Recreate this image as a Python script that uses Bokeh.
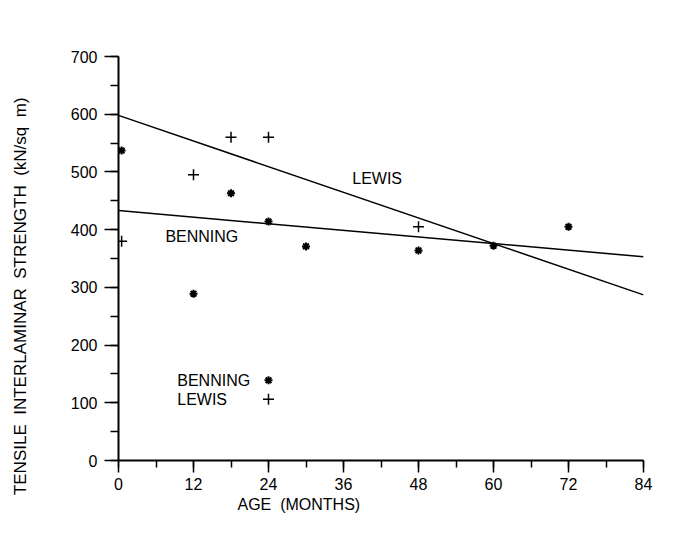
from bokeh.plotting import figure
from bokeh.models import Range1d, SingleIntervalTicker, Label, Title
from bokeh.embed import file_html
from bokeh.resources import INLINE

# ---- data ----
benning_age = [0.5, 12, 18, 24, 30, 48, 60, 72]
benning_str = [537, 289, 463, 414, 371, 364, 372, 405]
lewis_age = [0.5, 12, 18, 24, 48]
lewis_str = [380, 495, 560, 560, 405]
fit_age = [0, 84]
benning_fit = [433, 353]
lewis_fit = [598, 287]

FONT = "Liberation Sans"
NB = "\u00a0"

p = figure(width=675, height=540, output_backend="svg", toolbar_location=None,
           x_range=Range1d(0, 84), y_range=Range1d(0, 700),
           min_border_left=118, min_border_right=32, min_border_top=56,
           min_border_bottom=80)
p.outline_line_color = None
p.grid.grid_line_color = None
p.background_fill_color = "white"
p.border_fill_color = "white"

p.xaxis.ticker = SingleIntervalTicker(interval=12, num_minor_ticks=2)
p.yaxis.ticker = SingleIntervalTicker(interval=100, num_minor_ticks=2)
for ax in (p.xaxis, p.yaxis):
    ax.axis_line_color = "black"
    ax.axis_line_width = 2
    ax.major_tick_line_color = "black"
    ax.major_tick_line_width = 1.5
    ax.minor_tick_line_color = "black"
    ax.minor_tick_line_width = 1.5
    ax.major_tick_in = 0
    ax.minor_tick_in = 0
    ax.major_label_text_font = FONT
    ax.major_label_text_font_size = "16px"
    ax.major_label_text_color = "black"
p.xaxis.major_tick_out = 12
p.xaxis.minor_tick_out = 7
p.yaxis.major_tick_out = 14
p.yaxis.minor_tick_out = 8
p.xaxis.major_label_standoff = 5
p.yaxis.major_label_standoff = 7

# y axis title: the original sits below the frame centre, trailing
# non-breaking spaces shift the visible text down accordingly
ylab = (NB * 2).join(["TENSILE", "INTERLAMINAR", "STRENGTH", "(kN/sq", "m)"])
p.yaxis.axis_label = ylab + NB * 16
p.yaxis.axis_label_text_font = FONT
p.yaxis.axis_label_text_font_size = "17px"
p.yaxis.axis_label_text_font_style = "normal"
p.yaxis.axis_label_text_color = "black"
p.yaxis.axis_label_standoff = 38

# fitted lines
p.line(fit_age, lewis_fit, line_color="black", line_width=1.5)
p.line(fit_age, benning_fit, line_color="black", line_width=1.5)

# data points
p.scatter(benning_age, benning_str, marker="asterisk", size=8,
          line_color="black", line_width=2)
p.scatter(lewis_age, lewis_str, marker="cross", size=11,
          line_color="black", line_width=1.5)


def lab(x, y, t):
    p.add_layout(Label(x=x, y=y, text=t, text_font=FONT, text_font_size="16px",
                       text_color="black", text_align="left",
                       text_baseline="middle"))


lab(37.4, 489, "LEWIS")
lab(7.5, 388, "BENNING")

# legend
lab(9.4, 139, "BENNING")
lab(9.4, 106, "LEWIS")
p.scatter([24], [139], marker="asterisk", size=8, line_color="black", line_width=2)
p.scatter([24], [106], marker="cross", size=11, line_color="black", line_width=1.5)

# x axis title (left of centre, as in the original)
p.add_layout(Title(text="AGE" + NB * 2 + "(MONTHS)", align="left", offset=119,
                   text_font=FONT, text_font_size="16px", text_color="black",
                   text_font_style="normal", standoff=3), "below")

open("out.html", "w").write(file_html(p, INLINE))
